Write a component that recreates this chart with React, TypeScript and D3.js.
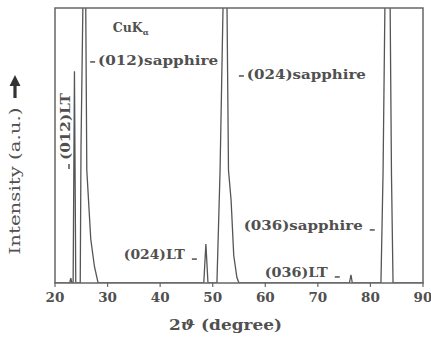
import React from 'react';
import * as d3 from 'd3';

// XRD scan: 2-theta (deg) and intensity (a.u., 100 = top of frame)
const scanAngles = [
  20, 22.8, 23.0, 23.2, 23.45, 23.7, 23.95,
  24.8, 24.95, 25.3, 25.4, 25.75, 25.85, 26.05, 26.8, 27.5, 28.2,
  48.3, 48.7, 49.1,
  50.8, 51.4, 51.96, 52.1, 52.6, 52.72, 53.0, 53.5, 54.0, 54.6, 55.0,
  76.0, 76.3, 76.55,
  82.0, 82.4, 82.75, 82.9, 83.6, 83.75, 84.0, 84.3,
  90,
];
const scanCounts = [
  0, 0, 1.8, 0, 0, 77, 0,
  0, 50, 100, 300, 300, 100, 41, 16, 6, 0,
  0, 14.2, 0,
  0, 41, 100, 300, 300, 100, 41, 30, 10, 2, 0,
  0, 3, 0,
  0, 40, 100, 300, 300, 100, 40, 0,
  0,
];

const xTicks = [20, 30, 40, 50, 60, 70, 80, 90];

const peakLabels = ['(012)sapphire', '(024)sapphire', '(024)LT', '(036)sapphire', '(036)LT'];

const W = 431;
const H = 337;
const margin = { top: 8, right: 8, bottom: 54, left: 55 };
const FONT = '"DejaVu Serif", serif';
const INK = '#505050';

export default function App() {
  const innerW = W - margin.left - margin.right;
  const innerH = H - margin.top - margin.bottom;

  const x = d3.scaleLinear().domain([20, 90]).range([0, innerW]);
  const y = d3.scaleLinear().domain([0, 100]).range([innerH, 0]);

  const pts: [number, number][] = scanAngles.map((a, i) => [a, scanCounts[i]]);
  const line = d3.line<[number, number]>()
    .x(d => x(d[0]))
    .y(d => y(d[1]));

  // annotation anchors in data units: [deg, intensity, text width px, marker side]
  const ann: { t: string; a: number; v: number; w: number; side: 'l' | 'r' }[] = [
    { t: peakLabels[0], a: 28.2, v: 79.3, w: 120, side: 'l' },
    { t: peakLabels[1], a: 56.5, v: 74.2, w: 119, side: 'l' },
    { t: peakLabels[2], a: 33.1, v: 8.7, w: 61, side: 'r' },
    { t: peakLabels[3], a: 55.9, v: 19.3, w: 119, side: 'r' },
    { t: peakLabels[4], a: 59.9, v: 2.2, w: 63, side: 'r' },
  ];

  return (
    <svg width={W} height={H} style={{ position: 'absolute', left: 0, top: 0, background: '#fff' }}>
      <defs>
        <clipPath id="plot">
          <rect x={0} y={0} width={innerW} height={innerH} />
        </clipPath>
      </defs>
      <g transform={`translate(${margin.left},${margin.top})`}>
        <path d={line(pts) || ''} fill="none" stroke="#555" strokeWidth={1.3} clipPath="url(#plot)" />
        <rect x={0} y={0} width={innerW} height={innerH} fill="none" stroke="#666" strokeWidth={1.5} />

        {xTicks.map(t => (
          <g key={t} transform={`translate(${x(t)},${innerH})`}>
            <line y1={-1} y2={4} stroke="#666" strokeWidth={1.2} />
            <text y={19} textAnchor="middle" fontFamily={FONT} fontWeight="bold" fontSize={13.5} fill={INK}>{t}</text>
          </g>
        ))}

        <text x={x(31.0)} y={y(91.3)} fontFamily={FONT} fontWeight="bold" fontSize={12.5} fill={INK}>
          CuK<tspan fontSize={8} dy={3}>α</tspan>
        </text>

        {ann.map(d => {
          const tx = x(d.a);
          const ty = y(d.v);
          return (
            <g key={d.t}>
              <text x={tx} y={ty} fontFamily={FONT} fontWeight="bold" fontSize={13.5} fill={INK}
                textLength={d.w} lengthAdjust="spacingAndGlyphs">{d.t}</text>
              {d.side === 'l'
                ? <line x1={tx - 8} x2={tx - 3} y1={ty - 3} y2={ty - 3} stroke={INK} strokeWidth={1.5} />
                : <line x1={tx + d.w + 7} x2={tx + d.w + 12} y1={ty} y2={ty} stroke={INK} strokeWidth={1.5} />}
            </g>
          );
        })}

        <g transform={`translate(${x(22.85)},${y(44.7)}) rotate(-90)`}>
          <text x={0} y={0} fontFamily={FONT} fontWeight="bold" fontSize={13.5} fill={INK}
            textLength={67} lengthAdjust="spacingAndGlyphs">(012)LT</text>
          <line x1={-9} x2={-4} y1={-1} y2={-1} stroke={INK} strokeWidth={1.5} />
        </g>
      </g>

      <g transform={`translate(20,${181})`}>
        <text transform="rotate(-90)" textAnchor="middle" fontFamily={FONT} fontSize={15} fill={INK}
          textLength={147} lengthAdjust="spacingAndGlyphs">Intensity (a.u.)</text>
      </g>
      <path d="M15,75 L20.5,86 L16.6,86 L16.6,98 L13.4,98 L13.4,86 L9.5,86 Z" fill="#333" />

      <text x={225.5} y={330} textAnchor="middle" fontFamily={FONT} fontWeight="bold" fontSize={15.5} fill={INK}
        textLength={113} lengthAdjust="spacingAndGlyphs">
        2<tspan fontStyle="italic">ϑ</tspan>  (degree)
      </text>
    </svg>
  );
}
